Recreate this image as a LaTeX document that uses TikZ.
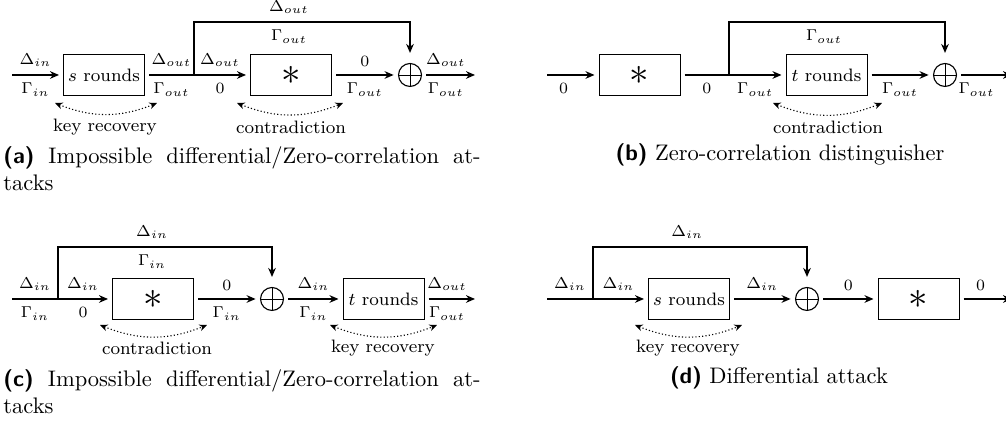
\documentclass[tikz,border=0pt]{standalone}
\usetikzlibrary{arrows.meta}

\begin{document}
\begin{tikzpicture}[x=0.15618mm, y=0.15618mm,
  blk/.style={draw, line width=0.4pt, minimum width=36pt, minimum height=18.2pt, inner sep=0pt, outer sep=2pt, font=\footnotesize},
  xorn/.style={circle, draw, line width=0.5pt, minimum size=10.2pt, inner sep=0pt, outer sep=2.2pt, path picture={\draw[line width=0.4pt] (path picture bounding box.north) -- (path picture bounding box.south) (path picture bounding box.west) -- (path picture bounding box.east);}},
  wire/.style={line width=0.6pt},
  tip/.style={-{Stealth[length=4pt,width=3.4pt]}},
  lbl/.style={font=\scriptsize},
  rangearr/.style={line width=0.5pt, densely dotted, {Stealth[length=3.4pt,width=3pt]}-{Stealth[length=3.4pt,width=3pt]}, bend right=22},
  note/.style={font=\footnotesize},
  capt/.style={font=\normalsize, inner sep=0pt}]

  \useasboundingbox (0,0) rectangle (1006,421);



  % (a) impossible differential / zero-correlation, key recovery first
  \coordinate (ain) at (12,346);
  \node[blk] (as1) at (104,346) {$s$ rounds};
  \coordinate (br1) at (194,346);
  \coordinate (tp1) at (194,399);
  \node[blk, font=\LARGE] (ast1) at (291,346) {$\ast$};
  \node[xorn] (ox1) at (410,346) {};
  \coordinate (aout) at (475,346);

  \draw[wire,tip] (ain) -- node[lbl,above] (la1) {$\Delta_{in}$} node[lbl,below] (la2) {$\Gamma_{in}$} (as1);
  \draw[wire] (as1) -- node[lbl,above] (la3) {$\Delta_{out}$} node[lbl,below] (la4) {$\Gamma_{out}$} (br1);
  \draw[wire,tip] (br1) -- node[lbl,above] (la5) {$\Delta_{out}$} node[lbl,below] (la6) {$0$} (ast1);
  \draw[wire,tip,shorten >=2.5pt] (br1) -- (tp1) -| node[lbl,above,pos=0.22] (la7) {$\Delta_{out}$} node[lbl,below,pos=0.22] (la8) {$\Gamma_{out}$} (ox1);
  \draw[wire,tip] (ast1) -- node[lbl,above] (la9) {$0$} node[lbl,below] (la10) {$\Gamma_{out}$} (ox1);
  \draw[wire,tip] (ox1) -- node[lbl,above,pos=0.4] (la11) {$\Delta_{out}$} node[lbl,below,pos=0.4] (la12) {$\Gamma_{out}$} (aout);

  \coordinate (ka1) at (55,318);
  \coordinate (kb1) at (157,318);
  \draw[rangearr] (ka1) to (kb1);
  \node[note] (kr1) at (105,294) {key recovery};

  \coordinate (ka2) at (237,318);
  \coordinate (kb2) at (343,318);
  \draw[rangearr] (ka2) to (kb2);
  \node[note] (ct1) at (291,294) {contradiction};

  \node[capt, anchor=north west, text width=212pt, align=justify] (ca) at (3,275) {\textsf{\textbf{(a)}} Impossible differential/Zero-correlation at-\linebreak tacks};



  % (b) zero-correlation distinguisher
  \coordinate (bin) at (547,346);
  \node[blk, font=\LARGE] (bst1) at (639.5,346) {$\ast$};
  \coordinate (br2) at (729,346);
  \coordinate (tp2) at (729,399);
  \node[blk] (bt1) at (826.5,346) {$t$ rounds};
  \node[xorn] (ox2) at (945,346) {};
  \coordinate (bout) at (1012,346);

  \draw[wire,tip] (bin) -- node[lbl,below,pos=0.35] (lb1) {$0$} (bst1);
  \draw[wire] (bst1) -- node[lbl,below] (lb2) {$0$} (br2);
  \draw[wire,tip] (br2) -- node[lbl,below] (lb3) {$\Gamma_{out}$} (bt1);
  \draw[wire,tip,shorten >=2.5pt] (br2) -- (tp2) -| node[lbl,below,pos=0.22] (lb4) {$\Gamma_{out}$} (ox2);
  \draw[wire,tip] (bt1) -- node[lbl,below] (lb5) {$\Gamma_{out}$} (ox2);
  \draw[wire,tip] (ox2) -- node[lbl,below,pos=0.3] (lb6) {$\Gamma_{out}$} (bout);

  \coordinate (ka3) at (773,318);
  \coordinate (kb3) at (882,318);
  \draw[rangearr] (ka3) to (kb3);
  \node[note] (ct2) at (828,294) {contradiction};

  \node[capt, anchor=base] (cb) at (780,260) {\textsf{\textbf{(b)}} Zero-correlation distinguisher};



  % (c) impossible differential / zero-correlation, key recovery last
  \coordinate (cin) at (12,122);
  \coordinate (br3) at (58,122);
  \coordinate (tp3) at (58,174);
  \node[blk, font=\LARGE] (cst1) at (153,122) {$\ast$};
  \node[xorn] (ox3) at (272,122) {};
  \node[blk] (ct3) at (383.5,122) {$t$ rounds};
  \coordinate (cout) at (475,122);

  \draw[wire] (cin) -- node[lbl,above] (lc1) {$\Delta_{in}$} node[lbl,below] (lc2) {$\Gamma_{in}$} (br3);
  \draw[wire,tip] (br3) -- node[lbl,above] (lc3) {$\Delta_{in}$} node[lbl,below] (lc4) {$0$} (cst1);
  \draw[wire,tip,shorten >=2.5pt] (br3) -- (tp3) -| node[lbl,above,pos=0.22] (lc5) {$\Delta_{in}$} node[lbl,below,pos=0.22] (lc6) {$\Gamma_{in}$} (ox3);
  \draw[wire,tip] (cst1) -- node[lbl,above] (lc7) {$0$} node[lbl,below] (lc8) {$\Gamma_{in}$} (ox3);
  \draw[wire,tip] (ox3) -- node[lbl,above] (lc9) {$\Delta_{in}$} node[lbl,below] (lc10) {$\Gamma_{in}$} (ct3);
  \draw[wire,tip] (ct3) -- node[lbl,above,pos=0.4] (lc11) {$\Delta_{out}$} node[lbl,below,pos=0.4] (lc12) {$\Gamma_{out}$} (cout);

  \coordinate (ka4) at (100,96);
  \coordinate (kb4) at (207,96);
  \draw[rangearr] (ka4) to (kb4);
  \node[note] (ct4) at (157,73) {contradiction};

  \coordinate (ka5) at (330,96);
  \coordinate (kb5) at (437,96);
  \draw[rangearr] (ka5) to (kb5);
  \node[note] (kr5) at (383,73) {key recovery};

  \node[capt, anchor=north west, text width=212pt, align=justify] (cc) at (3,52) {\textsf{\textbf{(c)}} Impossible differential/Zero-correlation at-\linebreak tacks};



  % (d) differential attack
  \coordinate (din) at (547,122);
  \coordinate (br4) at (593,122);
  \coordinate (tp4) at (593,174);
  \node[blk] (ds1) at (689,122) {$s$ rounds};
  \node[xorn] (ox4) at (807,122) {};
  \node[blk, font=\LARGE] (dst1) at (918.5,122) {$\ast$};
  \coordinate (dout) at (1012,122);

  \draw[wire] (din) -- node[lbl,above] (ld1) {$\Delta_{in}$} (br4);
  \draw[wire,tip] (br4) -- node[lbl,above] (ld2) {$\Delta_{in}$} (ds1);
  \draw[wire,tip,shorten >=2.5pt] (br4) -- (tp4) -| node[lbl,above,pos=0.22] (ld3) {$\Delta_{in}$} (ox4);
  \draw[wire,tip] (ds1) -- node[lbl,above] (ld4) {$\Delta_{in}$} (ox4);
  \draw[wire,tip] (ox4) -- node[lbl,above] (ld5) {$0$} (dst1);
  \draw[wire,tip] (dst1) -- node[lbl,above,pos=0.35] (ld6) {$0$} (dout);

  \coordinate (ka6) at (635,96);
  \coordinate (kb6) at (742,96);
  \draw[rangearr] (ka6) to (kb6);
  \node[note] (kr6) at (688,73) {key recovery};

  \node[capt, anchor=base] (cd) at (779,37) {\textsf{\textbf{(d)}} Differential attack};

\end{tikzpicture}
\end{document}
